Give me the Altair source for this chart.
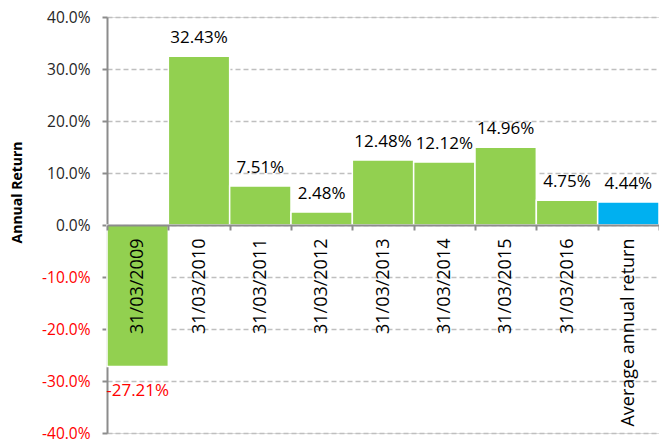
import altair as alt
import pandas as pd

categories = ["31/03/2009", "31/03/2010", "31/03/2011", "31/03/2012", "31/03/2013",
              "31/03/2014", "31/03/2015", "31/03/2016", "Average annual return"]
returns = [-27.21, 32.43, 7.51, 2.48, 12.48, 12.12, 14.96, 4.75, 4.44]
kinds = ["Year", "Year", "Year", "Year", "Year", "Year", "Year", "Year", "Average"]
y_ticks = [-40, -30, -20, -10, 0, 10, 20, 30, 40]

df = pd.DataFrame({
    "category": categories,
    "ret": returns,
    "kind": kinds,
    "label": [f"{v:.2f}%" for v in returns],
})

FONT = "Open Sans"

x_enc = alt.X(
    "category:N", sort=categories, title=None,
    scale=alt.Scale(paddingInner=0, paddingOuter=0),
    axis=alt.Axis(
        orient="bottom", offset=-208, zindex=1,
        domainColor="#8c8c8c", domainWidth=2,
        tickColor="#8c8c8c", tickWidth=2, tickSize=5, tickBand="extent",
        labelAngle=270, labelPadding=8, labelFont=FONT, labelFontSize=18,
        labelColor="#000000", labelLimit=300, grid=False,
    ),
)

y_scale = alt.Scale(domain=[-40, 40], nice=False, zero=False)

bars = alt.Chart(df).mark_bar(stroke="white", strokeWidth=1.5).encode(
    x=x_enc,
    y=alt.Y(
        "ret:Q", scale=y_scale, title="Annual Return",
        axis=alt.Axis(
            values=y_ticks,
            labelExpr="(datum.value < 0 ? '-' : '') + format(abs(datum.value), '.1f') + '%'",
            labelColor=alt.condition("datum.value < 0", alt.value("#ff0000"), alt.value("#262626")),
            labelFont=FONT, labelFontSize=15.5, labelPadding=12,
            domainColor="#8c8c8c", domainWidth=2,
            tickColor="#8c8c8c", tickWidth=2, tickSize=5,
            gridColor="#bfbfbf", gridDash=[5, 3], gridWidth=1.5,
            titleFont=FONT, titleFontSize=14, titleFontWeight="bold",
            titleColor="#000000", titleX=-90, titleY=175,
            titleBaseline="middle", titleAlign="center", titleAngle=270,
        ),
    ),
    y2=alt.datum(0),
    color=alt.Color("kind:N", scale=alt.Scale(domain=["Year", "Average"],
                                              range=["#92d050", "#00b0f0"]), legend=None),
)

pos_labels = alt.Chart(df).transform_filter("datum.ret >= 0").mark_text(
    font=FONT, fontSize=17, color="#000000", baseline="middle", dy=-18
).encode(
    x=alt.X("category:N", sort=categories),
    y=alt.Y("ret:Q", scale=y_scale),
    text="label:N",
)

neg_labels = alt.Chart(df).transform_filter("datum.ret < 0").mark_text(
    font=FONT, fontSize=17, color="#ff0000", baseline="middle", dy=25
).encode(
    x=alt.X("category:N", sort=categories),
    y=alt.Y("ret:Q", scale=y_scale),
    text="label:N",
)

chart = alt.layer(bars, pos_labels, neg_labels).properties(
    width=552, height=416,
    autosize=alt.AutoSizeParams(type="none"),
    padding={"left": 107, "top": 17, "right": 0, "bottom": 6},
).configure_view(stroke=None).configure(background="white")

chart.save("out.html", embed_options={"renderer": "svg", "actions": False})
